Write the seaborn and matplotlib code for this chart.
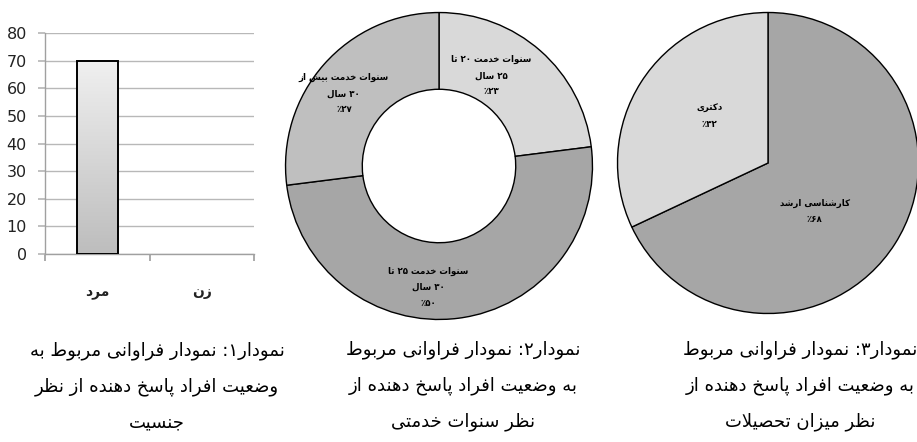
import numpy as np
import matplotlib
matplotlib.use("Agg")
import matplotlib.pyplot as plt
import seaborn as sns

# --- data -------------------------------------------------------------
gender = ['مرد', 'زن']
gender_count = [70, 0]

service_labels = ['سنوات خدمت ۲۰ تا\n۲۵ سال\n٪۲۳',
                  'سنوات خدمت ۲۵ تا\n۳۰ سال\n٪۵۰',
                  'سنوات خدمت بیش از\n۳۰ سال\n٪۲۷']
service_pct = [23, 50, 27]

edu_labels = ['کارشناسی ارشد\n٪۶۸', 'دکتری\n٪۳۲']
edu_pct = [68, 32]

captions = ['نمودار۱: نمودار فراوانی مربوط به\nوضعیت افراد پاسخ دهنده از نظر\nجنسیت',
            'نمودار۲: نمودار فراوانی مربوط\nبه وضعیت افراد پاسخ دهنده از\nنظر سنوات خدمتی',
            'نمودار۳: نمودار فراوانی مربوط\nبه وضعیت افراد پاسخ دهنده از\nنظر میزان تحصیلات']

# --- small persian shaper (matplotlib has no shaping / bidi) -----------
_four = {'ب': 0xFE8F, 'ت': 0xFE95, 'ج': 0xFE9D, 'ح': 0xFEA1, 'خ': 0xFEA5,
         'س': 0xFEB1, 'ش': 0xFEB5, 'ص': 0xFEB9, 'ض': 0xFEBD, 'ط': 0xFEC1,
         'ظ': 0xFEC5, 'ع': 0xFEC9, 'ف': 0xFED1, 'ل': 0xFEDD, 'م': 0xFEE1,
         'ن': 0xFEE5, 'ه': 0xFEE9, 'پ': 0xFB56, 'ک': 0xFB8E, 'ی': 0xFBFC}
_two = {'ا': 0xFE8D, 'د': 0xFEA9, 'ر': 0xFEAD, 'ز': 0xFEAF, 'و': 0xFEED}
_digits = set('۰۱۲۳۴۵۶۷۸۹0123456789٪%')


def _shape_line(text):
    out = []
    n = len(text)
    i = 0
    while i < n:
        c = text[i]
        left = i > 0 and text[i - 1] in _four
        if c == 'ل' and i + 1 < n and text[i + 1] == 'ا':
            out.append('\uFEFC' if left else '\uFEFB')
            i += 2
            continue
        nxt = text[i + 1] if i + 1 < n else ''
        if c in _four:
            right = nxt in _four or nxt in _two
            k = (3 if right else 1) if left else (2 if right else 0)
            out.append(chr(_four[c] + k))
        elif c in _two:
            out.append(chr(_two[c] + (1 if left else 0)))
        else:
            out.append(c)
        i += 1
    # visual order: reverse, keep digit runs left-to-right
    runs, cur = [], ''
    for ch in out:
        if ch in _digits:
            cur += ch
        else:
            if cur:
                runs.append(cur)
                cur = ''
            runs.append(ch)
    if cur:
        runs.append(cur)
    return ''.join(reversed(runs))


def fa(text):
    return '\n'.join(_shape_line(t) for t in text.split('\n'))


# --- figure -----------------------------------------------------------
sns.set_theme(style='white')
plt.rcParams['font.family'] = ['DejaVu Sans']

W, H = 917, 442
fig = plt.figure(figsize=(W / 100, H / 100), dpi=100)
fig.patch.set_facecolor('white')


def px_axes(x0, y0, x1, y1):
    return fig.add_axes([x0 / W, 1 - y1 / H, (x1 - x0) / W, (y1 - y0) / H])


# chart 1: bar
ax1 = px_axes(45, 33, 254, 254)
sns.barplot(x=[fa(g) for g in gender], y=gender_count, ax=ax1, color='#d0d0d0',
            width=0.39, edgecolor='black', linewidth=1.4, saturation=1)
grad = np.linspace(0, 1, 256).reshape(-1, 1)
for p in ax1.patches:
    if p.get_height() <= 0:
        p.set_visible(False)
        continue
    im = ax1.imshow(grad, cmap=matplotlib.colors.LinearSegmentedColormap.from_list(
        'g', ['#bdbdbd', '#f0f0f0']), origin='lower', aspect='auto',
        extent=[p.get_x(), p.get_x() + p.get_width(), 0, p.get_height()], zorder=2.5)
    im.set_clip_path(p)
    p.set_zorder(3)
    p.set_facecolor('none')
ax1.set_xlim(-0.5, 1.5)
ax1.set_ylim(0, 80)
ax1.set_yticks(range(0, 81, 10))
ax1.yaxis.grid(True, color='#b8b8b8', linewidth=1)
ax1.set_axisbelow(True)
ax1.set_xticks([-0.5, 0.5, 1.5])
ax1.set_xticklabels([])
ax1.set_xticks([0, 1], minor=True)
ax1.set_xticklabels([fa(g) for g in gender], minor=True, fontsize=10,
                    fontweight='bold', color='#222222')
ax1.tick_params(axis='x', which='minor', length=0, pad=22)
ax1.tick_params(axis='x', which='major', length=5, color='#a0a0a0', direction='out',
                bottom=True)
ax1.tick_params(axis='y', length=5, color='#b8b8b8', labelsize=11.5, pad=8,
                labelcolor='#222222', left=True)
for s in ['top', 'right']:
    ax1.spines[s].set_visible(False)
for s in ['left', 'bottom']:
    ax1.spines[s].set_color('#a0a0a0')
    ax1.spines[s].set_linewidth(1)
ax1.set_xlabel('')
ax1.set_ylabel('')
ax1.set_facecolor('white')

# chart 2: donut
ax2 = px_axes(439 - 155, 166 - 155, 439 + 155, 166 + 155)
ax2.pie(service_pct, colors=['#d9d9d9', '#a6a6a6', '#bfbfbf'], startangle=90,
        counterclock=False, radius=1,
        wedgeprops=dict(width=0.5, edgecolor='black', linewidth=1.0))
ax2.set_xlim(-1.01, 1.01)
ax2.set_ylim(-1.01, 1.01)
ax2.set_aspect('equal')
ax2.axis('off')
donut_pos = [(0.34, 0.59), (-0.07, -0.79), (-0.62, 0.47)]
for lab, (x, y) in zip(service_labels, donut_pos):
    ax2.text(x, y, fa(lab), ha='center', va='center', fontsize=6.2,
             fontweight='bold', linespacing=2.0, color='black')

# chart 3: pie
ax3 = px_axes(768 - 152, 163 - 152, 768 + 152, 163 + 152)
ax3.pie(edu_pct, colors=['#a6a6a6', '#d9d9d9'], startangle=90, counterclock=False,
        radius=1, wedgeprops=dict(edgecolor='black', linewidth=1.0))
ax3.set_xlim(-1.01, 1.01)
ax3.set_ylim(-1.01, 1.01)
ax3.set_aspect('equal')
ax3.axis('off')
pie_pos = [(0.31, -0.32), (-0.39, 0.31)]
for lab, (x, y) in zip(edu_labels, pie_pos):
    ax3.text(x, y, fa(lab), ha='center', va='center', fontsize=6.2,
             fontweight='bold', linespacing=2.0, color='black')

# captions
for cap, cx in zip(captions, [157, 463, 800]):
    fig.text(cx / W, 1 - 386 / H, fa(cap), ha='center', va='center', fontsize=13,
             linespacing=2.25, color='black')

fig.savefig('out.png', dpi=100, facecolor='white')
